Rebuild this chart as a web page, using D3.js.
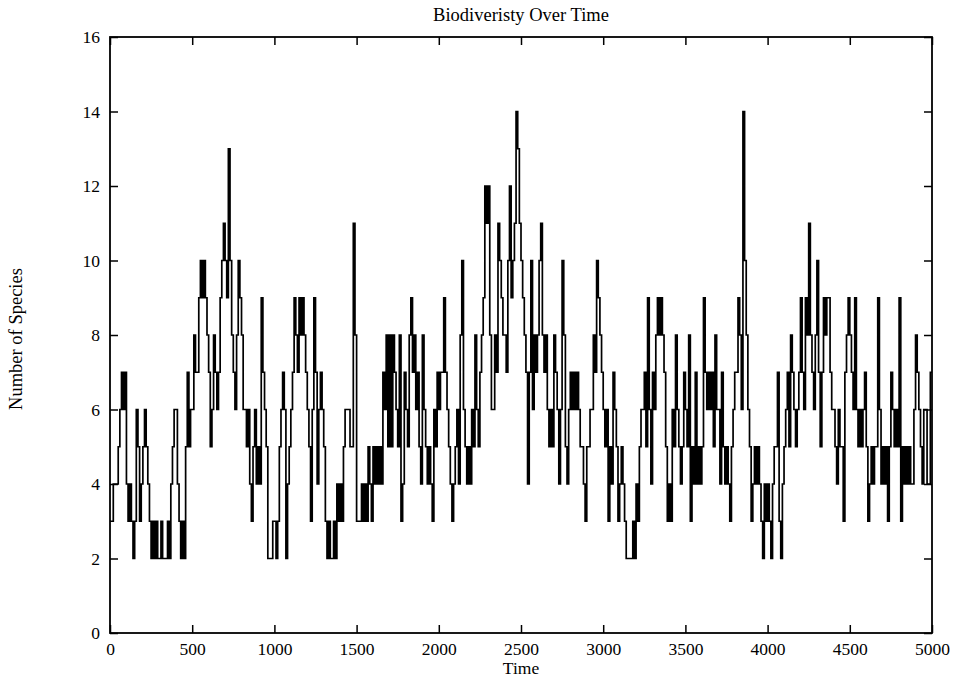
<!DOCTYPE html>
<html>
<head>
<meta charset="utf-8">
<script src="https://cdn.jsdelivr.net/npm/d3@7/dist/d3.min.js"></script>
<style>
  html, body { margin: 0; padding: 0; background: #fff; }
  svg { display: block; }
  text { font-family: "Liberation Serif", "Times New Roman", serif; fill: #000; }
</style>
</head>
<body>
<svg id="chart" width="953" height="679"></svg>
<script>
// ---- data ----
const chartTitle = "Biodiveristy Over Time";
const xLabel = "Time";
const yLabel = "Number of Species";
const xTicks = [0, 500, 1000, 1500, 2000, 2500, 3000, 3500, 4000, 4500, 5000];
const yTicks = [0, 2, 4, 6, 8, 10, 12, 14, 16];
const sampleStep = 10;   // time units between samples
// species count sampled every 10 time units (one row = 100 time units)
const species = [
  3,3,4,4,4,5,6,7,6,7,      // 0
  4,3,4,3,2,3,6,5,3,4,      // 100
  5,6,5,4,3,2,3,2,3,2,      // 200
  2,3,2,2,2,3,2,4,5,6,      // 300
  6,4,3,2,3,2,5,7,5,6,      // 400
  6,8,7,7,9,10,9,10,9,8,    // 500
  7,5,6,8,7,6,7,9,10,11,    // 600
  10,9,13,10,8,7,6,8,10,9,  // 700
  8,6,6,5,6,4,3,5,6,4,      // 800
  5,4,9,7,6,5,2,2,2,3,      // 900
  3,2,3,5,6,7,6,2,4,5,      // 1000
  6,7,9,8,7,9,8,9,8,7,      // 1100
  6,5,3,6,9,7,4,6,7,6,      // 1200
  5,3,2,3,2,2,3,2,4,3,      // 1300
  4,3,5,6,6,6,5,5,11,8,     // 1400
  3,3,3,4,3,4,3,5,4,3,      // 1500
  5,4,5,4,5,4,7,6,8,5,      // 1600
  8,5,8,7,6,5,8,3,4,7,      // 1700
  6,5,8,9,7,8,6,7,5,4,      // 1800
  8,6,5,4,5,4,3,6,5,7,      // 1900
  6,7,7,9,7,6,5,4,3,4,      // 2000
  5,6,4,8,10,6,5,4,5,4,     // 2100
  6,5,8,6,5,7,8,9,12,11,    // 2200
  12,8,6,6,8,7,11,10,9,8,   // 2300
  8,7,10,12,9,10,11,14,13,11, // 2400
  10,9,8,7,4,7,10,6,8,7,    // 2500
  8,10,11,8,7,8,6,5,6,5,    // 2600
  8,7,6,4,6,10,8,5,4,6,     // 2700
  7,6,7,6,7,6,5,5,4,3,      // 2800
  5,5,6,6,8,7,10,9,8,7,     // 2900
  6,5,6,3,5,4,7,6,5,3,      // 3000
  4,5,4,3,2,2,2,2,3,2,      // 3100
  4,3,5,6,6,7,5,9,6,4,      // 3200
  7,6,8,9,8,9,8,7,5,3,      // 3300
  4,3,6,5,8,6,5,4,5,7,      // 3400
  6,5,8,3,5,4,7,4,5,4,      // 3500
  5,9,7,6,7,6,7,5,8,6,      // 3600
  6,4,7,5,4,5,4,3,5,6,      // 3700
  7,7,9,8,6,14,10,8,6,5,    // 3800
  3,4,5,4,5,4,3,2,4,3,      // 3900
  4,3,2,4,5,5,7,3,2,4,      // 4000
  5,6,7,5,8,7,6,5,6,7,      // 4100
  9,7,6,9,8,11,8,7,6,8,     // 4200
  10,7,5,7,9,8,9,9,7,6,     // 4300
  6,5,4,6,5,5,3,7,8,9,      // 4400
  8,7,6,9,6,5,6,5,6,7,      // 4500
  5,3,4,5,4,5,5,9,6,4,      // 4600
  5,4,5,3,5,7,6,5,6,5,      // 4700
  9,3,5,4,5,4,5,4,4,6,      // 4800
  8,7,6,5,4,6,6,4,4,7       // 4900
];

// ---- layout ----
const svg = d3.select("#chart");
const plotL = 110, plotR = 932, plotT = 37, plotB = 633;
const x = d3.scaleLinear().domain([0, 5000]).range([plotL, plotR]);
const y = d3.scaleLinear().domain([0, 16]).range([plotB, plotT]);

const points = species.map((v, i) => [i * sampleStep, v]);
points.push([5000, species[species.length - 1]]);

const line = d3.line()
  .x(d => x(d[0]))
  .y(d => y(d[1]))
  .curve(d3.curveStepAfter);

svg.append("path")
  .datum(points)
  .attr("fill", "none")
  .attr("stroke", "#000")
  .attr("stroke-width", 1.7)
  .attr("d", line);

// axes with inward ticks (mirrored on top/right)
const fontSize = 17.5;
function styleAxis(g, showLabels) {
  g.select(".domain").remove();
  g.selectAll(".tick line").attr("stroke", "#000").attr("stroke-width", 1.5);
  g.selectAll(".tick text")
    .attr("font-family", '"Liberation Serif", serif')
    .attr("font-size", fontSize)
    .attr("fill", "#000");
  if (!showLabels) g.selectAll(".tick text").remove();
}

svg.append("g")
  .attr("transform", `translate(0,${plotB})`)
  .call(d3.axisBottom(x).tickValues(xTicks).tickFormat(d3.format("d")).tickSize(-8).tickPadding(10))
  .call(g => styleAxis(g, true));
svg.append("g")
  .attr("transform", `translate(0,${plotT})`)
  .call(d3.axisTop(x).tickValues(xTicks).tickSize(-8))
  .call(g => styleAxis(g, false));
svg.append("g")
  .attr("transform", `translate(${plotL},0)`)
  .call(d3.axisLeft(y).tickValues(yTicks).tickFormat(d3.format("d")).tickSize(-8).tickPadding(10))
  .call(g => styleAxis(g, true));
svg.append("g")
  .attr("transform", `translate(${plotR},0)`)
  .call(d3.axisRight(y).tickValues(yTicks).tickSize(-8))
  .call(g => styleAxis(g, false));

// frame
svg.append("rect")
  .attr("x", plotL).attr("y", plotT)
  .attr("width", plotR - plotL).attr("height", plotB - plotT)
  .attr("fill", "none").attr("stroke", "#000").attr("stroke-width", 1.8);

// titles
svg.append("text")
  .attr("x", (plotL + plotR) / 2).attr("y", 21)
  .attr("text-anchor", "middle").attr("font-size", 18.5)
  .text(chartTitle);
svg.append("text")
  .attr("x", (plotL + plotR) / 2).attr("y", 674)
  .attr("text-anchor", "middle").attr("font-size", fontSize)
  .text(xLabel);
svg.append("text")
  .attr("transform", `translate(22,${(plotT + plotB) / 2 + 4}) rotate(-90)`)
  .attr("text-anchor", "middle").attr("font-size", 18.5)
  .text(yLabel);
</script>
</body>
</html>
